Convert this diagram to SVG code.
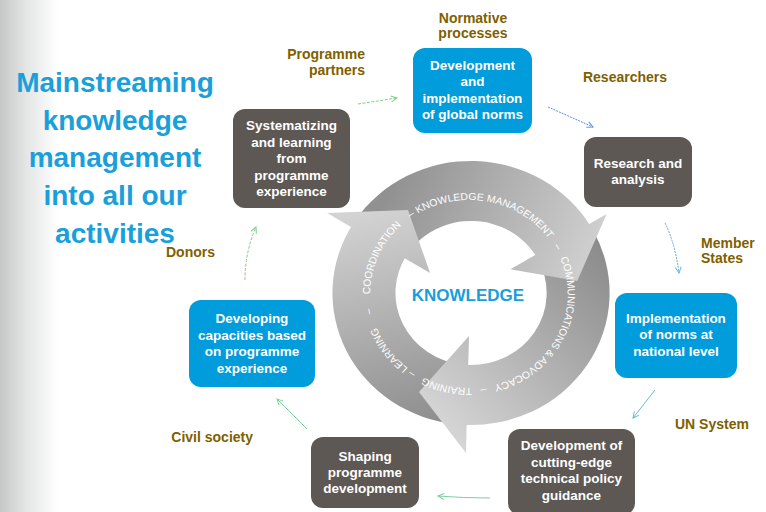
<svg xmlns="http://www.w3.org/2000/svg" width="766" height="512" viewBox="0 0 766 512">
<style>
.box text, .lbl, .title, .center { font-family: "Liberation Sans", Arial, sans-serif; font-weight: bold; }
.box text { font-size: 13.5px; fill: #ffffff; text-anchor: middle; }
.blue rect { fill: #009cdb; }
.dark rect { fill: #5d5854; }
.lbl { font-size: 14px; fill: #7f6000; }
.title { font-size: 28px; fill: #19a0db; text-anchor: middle; }
.center { font-size: 17px; fill: #1a9edb; text-anchor: middle; }
.ring { font-family: "Liberation Sans", Arial, sans-serif; font-size: 10px; fill: #ffffff; text-anchor: middle; }
.con path { fill: none; stroke-width: 1; }
</style>
<defs>
<linearGradient id="bg" x1="0" y1="0" x2="58" y2="0" gradientUnits="userSpaceOnUse">
<stop offset="0" stop-color="#c5c7c7"/><stop offset="0.45" stop-color="#e4e5e5"/><stop offset="1" stop-color="#ffffff"/>
</linearGradient>
<linearGradient id="gL" x1="450" y1="425" x2="395" y2="205" gradientUnits="userSpaceOnUse">
<stop offset="0" stop-color="#8c8c8c"/><stop offset="1" stop-color="#d3d3d3"/>
</linearGradient>
<linearGradient id="gT" x1="395" y1="185" x2="600" y2="270" gradientUnits="userSpaceOnUse">
<stop offset="0" stop-color="#919191"/><stop offset="1" stop-color="#d5d5d5"/>
</linearGradient>
<linearGradient id="gR" x1="600" y1="245" x2="425" y2="410" gradientUnits="userSpaceOnUse">
<stop offset="0" stop-color="#8a8a8a"/><stop offset="1" stop-color="#d6d6d6"/>
</linearGradient>
<path id="tp" d="M 375.5 303.8 A 94 94 0 1 1 562.5 284.2 A 94 94 0 1 1 375.5 303.8"/>
<marker id="mG" viewBox="0 0 8 8" refX="7" refY="4" markerWidth="8" markerHeight="8" orient="auto" markerUnits="userSpaceOnUse"><path d="M1,1 L7,4 L1,7" fill="none" stroke="#86cc86" stroke-width="1"/></marker>
<marker id="mB" viewBox="0 0 8 8" refX="7" refY="4" markerWidth="8" markerHeight="8" orient="auto" markerUnits="userSpaceOnUse"><path d="M1,1 L7,4 L1,7" fill="none" stroke="#5a8ede" stroke-width="1"/></marker>
<marker id="mC" viewBox="0 0 8 8" refX="7" refY="4" markerWidth="8" markerHeight="8" orient="auto" markerUnits="userSpaceOnUse"><path d="M1,1 L7,4 L1,7" fill="none" stroke="#62bfd0" stroke-width="1"/></marker>
<marker id="mT" viewBox="0 0 8 8" refX="7" refY="4" markerWidth="8" markerHeight="8" orient="auto" markerUnits="userSpaceOnUse"><path d="M1,1 L7,4 L1,7" fill="none" stroke="#7ed0a0" stroke-width="1"/></marker>
</defs>
<rect x="0" y="0" width="766" height="512" fill="#ffffff"/>
<rect x="0" y="0" width="60" height="512" fill="url(#bg)"/>

<g id="cycle">
<g transform="matrix(1.05 0 0 1 -23.55 0)">
<path d="M 457.2 424.3 A 132 132 0 0 1 359.1 223.1 L 410.0 254.8 A 72 72 0 0 0 463.5 364.6 Z" fill="url(#gL)"/>
<path d="M 360.3 221.1 A 132 132 0 0 1 585.9 228.0 L 533.7 257.5 A 72 72 0 0 0 410.6 253.8 Z" fill="url(#gT)"/>
<path d="M 587.0 230.0 A 132 132 0 0 1 459.5 424.5 L 464.7 364.7 A 72 72 0 0 0 534.3 258.6 Z" fill="url(#gR)"/>
<polygon points="333.9,213 411,210 432,273" fill="url(#gL)"/>
<polygon points="600.2,214 572.2,280.9 508.5,269.3" fill="url(#gT)"/>
<polygon points="466.2,453 421.5,392 469.1,336" fill="url(#gR)"/>
<text class="ring"><textPath href="#tp"><tspan x="48.2">COORDINATION</tspan><tspan x="100.2">–</tspan><tspan x="175.9">KNOWLEDGE MANAGEMENT</tspan><tspan x="257.1">–</tspan><tspan x="348.1">COMMUNICATIONS &amp; ADVOCACY</tspan><tspan x="438.7">–</tspan><tspan x="473.3">TRAINING</tspan><tspan x="508.4">–</tspan><tspan x="540.1">LEARNING</tspan><tspan x="582.6">–</tspan></textPath></text>
</g>
<text class="center" x="468" y="300.5">KNOWLEDGE</text>
</g>

<g id="title">
<text class="title" x="115" y="92">Mainstreaming</text>
<text class="title" x="115" y="130">knowledge</text>
<text class="title" x="115" y="167">management</text>
<text class="title" x="115" y="205">into all our</text>
<text class="title" x="115" y="243">activities</text>
</g>

<g id="labels">
<text class="lbl" x="473" y="23" text-anchor="middle">Normative</text>
<text class="lbl" x="473" y="38" text-anchor="middle">processes</text>
<text class="lbl" x="365" y="59" text-anchor="end">Programme</text>
<text class="lbl" x="365" y="75" text-anchor="end">partners</text>
<text class="lbl" x="625" y="82" text-anchor="middle">Researchers</text>
<text class="lbl" x="701" y="248">Member</text>
<text class="lbl" x="701" y="263">States</text>
<text class="lbl" x="675" y="429">UN System</text>
<text class="lbl" x="253" y="442" text-anchor="end">Civil society</text>
<text class="lbl" x="166" y="257">Donors</text>
</g>

<g class="con" id="connectors">
<path d="M 358 104 L 397 98" stroke="#86cc86" stroke-dasharray="3 1.5" marker-end="url(#mG)"/>
<path d="M 548 107 L 593 127" stroke="#5a8ede" stroke-dasharray="2 1" marker-end="url(#mB)"/>
<path d="M 665 223 Q 675 243 679 273" stroke="#62a8d8" stroke-dasharray="2 1" marker-end="url(#mC)"/>
<path d="M 655 390 L 633 418" stroke="#62bfd0" marker-end="url(#mC)"/>
<path d="M 490 498 Q 463 498 438 496" stroke="#7ed0a0" marker-end="url(#mT)"/>
<path d="M 307 429 L 277 399" stroke="#7ed0a0" marker-end="url(#mT)"/>
<path d="M 245 280 Q 245 252 256 227" stroke="#86cc86" stroke-dasharray="3 1.5" marker-end="url(#mG)"/>
</g>

<g id="n1" class="box blue">
<rect x="413" y="48" width="119" height="85" rx="12"/>
<text x="472.5" y="69.5">Development</text>
<text x="472.5" y="86">and</text>
<text x="472.5" y="102.5">implementation</text>
<text x="472.5" y="119">of global norms</text>
</g>
<g id="n2" class="box dark">
<rect x="584" y="137" width="108" height="70" rx="12"/>
<text x="638" y="167.5">Research and</text>
<text x="638" y="184">analysis</text>
</g>
<g id="n3" class="box blue">
<rect x="615" y="293" width="122" height="85" rx="12"/>
<text x="676" y="322.5">Implementation</text>
<text x="676" y="339">of norms at</text>
<text x="676" y="355.5">national level</text>
</g>
<g id="n4" class="box dark">
<rect x="508" y="429" width="127" height="86" rx="12"/>
<text x="571.5" y="450">Development of</text>
<text x="571.5" y="466.5">cutting-edge</text>
<text x="571.5" y="483">technical policy</text>
<text x="571.5" y="499.5">guidance</text>
</g>
<g id="n5" class="box dark">
<rect x="311" y="437" width="108" height="71" rx="12"/>
<text x="365" y="461">Shaping</text>
<text x="365" y="477">programme</text>
<text x="365" y="493">development</text>
</g>
<g id="n6" class="box blue">
<rect x="189" y="300" width="126" height="87" rx="12"/>
<text x="252" y="323">Developing</text>
<text x="252" y="339.5">capacities based</text>
<text x="252" y="356">on programme</text>
<text x="252" y="372.5">experience</text>
</g>
<g id="n7" class="box dark">
<rect x="233" y="109" width="117" height="99" rx="12"/>
<text x="291.5" y="130">Systematizing</text>
<text x="291.5" y="146.5">and learning</text>
<text x="291.5" y="163">from</text>
<text x="291.5" y="179.5">programme</text>
<text x="291.5" y="196">experience</text>
</g>
</svg>
